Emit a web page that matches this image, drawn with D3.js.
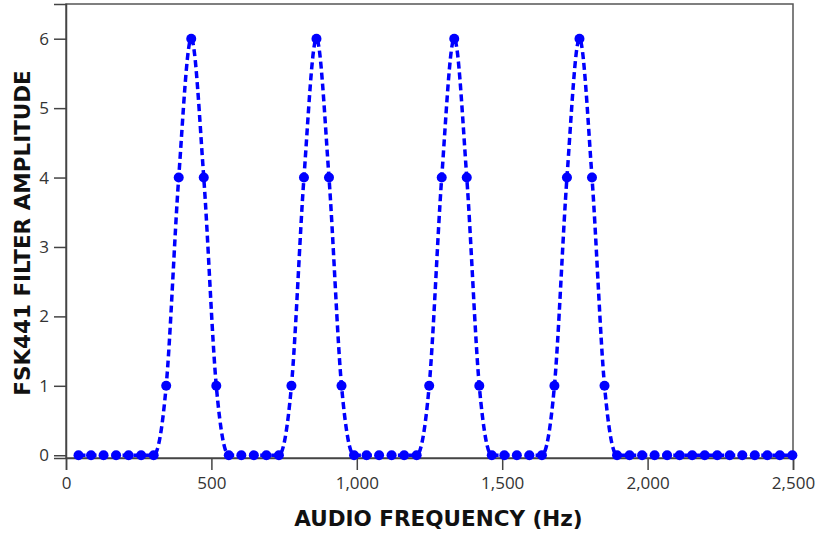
<!DOCTYPE html>
<html>
<head>
<meta charset="utf-8">
<script src="https://cdn.jsdelivr.net/npm/d3@7"></script>
<style>
  body { margin: 0; background: #fff; }
  .axis-title { font-family: "DejaVu Sans", sans-serif; font-size: 21.5px; font-weight: bold; fill: #111; }
</style>
</head>
<body>
<div id="chart"></div>
<script>
// FFT bin spacing is 11025/256 Hz, bins 1..58
var binHz = 11025 / 256
var bins = d3.range(1, 59)
var amplitude = [
  0, 0, 0, 0, 0, 0, 0, 1, 4, 6, 4, 1, 0, 0, 0, 0, 0, 1, 4, 6,
  4, 1, 0, 0, 0, 0, 0, 0, 1, 4, 6, 4, 1, 0, 0, 0, 0, 0, 1, 4,
  6, 4, 1, 0, 0, 0, 0, 0, 0, 0, 0, 0, 0, 0, 0, 0, 0, 0
]
var xTicks = [0, 500, 1000, 1500, 2000, 2500]
var yTicks = [0, 1, 2, 3, 4, 5, 6]

var points = bins.map(function(k, i) { return { f: k * binHz, a: amplitude[i] } })

var W = 822, H = 533
var margin = { top: 4, right: 29, bottom: 75, left: 66 }
var width = W - margin.left - margin.right
var height = H - margin.top - margin.bottom

var svg = d3.select("#chart").append("svg")
  .attr("width", W)
  .attr("height", H)

var g = svg.append("g")
  .attr("transform", "translate(" + margin.left + "," + margin.top + ")")

var x = d3.scaleLinear().domain([0, 2500]).range([0, width])
var y = d3.scaleLinear().domain([-0.04, 6.5]).range([height, 0])

// frame
g.append("rect")
  .attr("width", width)
  .attr("height", height)
  .attr("fill", "none")
  .attr("stroke", "#555")
  .attr("stroke-width", 1.5)

function styleAxis(sel) {
  sel.attr("font-family", "'Open Sans', 'Noto Sans', sans-serif")
    .attr("font-size", 17)
  sel.select(".domain").attr("stroke", "#444").attr("stroke-width", 1.5)
  sel.selectAll(".tick line").attr("stroke", "#444").attr("stroke-width", 1.5)
  sel.selectAll(".tick text").attr("fill", "#333")
}

// axes
var xAxis = g.append("g")
  .attr("transform", "translate(0," + height + ")")
  .call(d3.axisBottom(x).tickValues(xTicks).tickFormat(d3.format(",")).tickSize(12).tickPadding(7))
styleAxis(xAxis)

var yAxis = g.append("g")
  .call(d3.axisLeft(y).tickValues(yTicks).tickFormat(d3.format("d")).tickSize(12).tickPadding(5))
styleAxis(yAxis)

// series
var line = d3.line()
  .x(function(d) { return x(d.f) })
  .y(function(d) { return y(d.a) })
  .curve(d3.curveMonotoneX)

g.append("path")
  .datum(points)
  .attr("fill", "none")
  .attr("stroke", "#0000ff")
  .attr("stroke-width", 3.5)
  .attr("stroke-dasharray", "7,4")
  .attr("d", line)

g.append("g")
  .selectAll("circle")
  .data(points)
  .enter()
  .append("circle")
    .attr("cx", function(d) { return x(d.f) })
    .attr("cy", function(d) { return y(d.a) })
    .attr("r", 5)
    .attr("fill", "#0000ff")

// titles
svg.append("text")
  .attr("class", "axis-title")
  .attr("x", margin.left + width / 2 + 9)
  .attr("y", 526)
  .attr("text-anchor", "middle")
  .text("AUDIO FREQUENCY (Hz)")

svg.append("text")
  .attr("class", "axis-title")
  .attr("transform", "translate(30," + (margin.top + height / 2 + 2) + ") rotate(-90)")
  .attr("text-anchor", "middle")
  .text("FSK441 FILTER AMPLITUDE")
</script>
</body>
</html>
